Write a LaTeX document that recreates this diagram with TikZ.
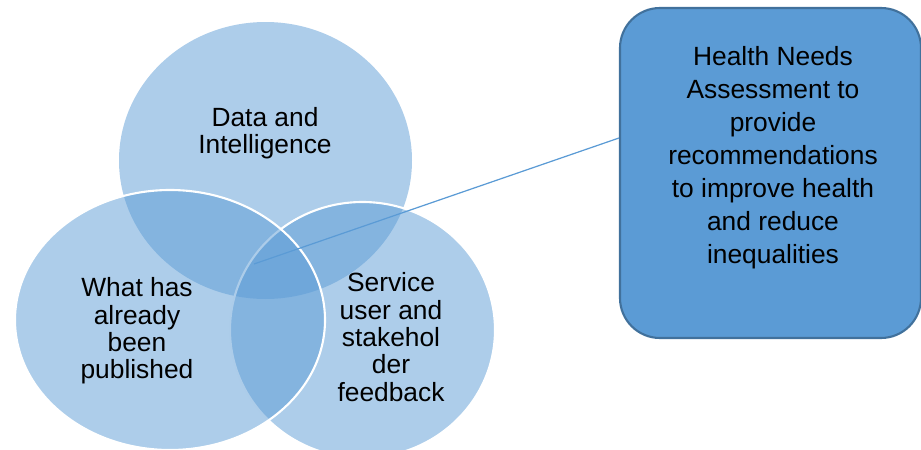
\documentclass[tikz,border=0pt]{standalone}
\usepackage{fontspec}
\setmainfont{Liberation Sans}
\usepackage{tikz}
\usetikzlibrary{shapes.geometric}
\definecolor{venn1}{RGB}{91,155,213}
\definecolor{boxline}{RGB}{65,113,156}

\begin{document}
\begin{tikzpicture}[x=0.02cm,y=-0.02cm,
  vennfill/.style={fill=venn1,fill opacity=0.5},
  vennline/.style={draw=white,line width=1.2pt},
  venntext/.style={align=center,font=\fontsize{15}{15.6}\selectfont},
  boxtext/.style={align=center,font=\fontsize{15}{18.8}\selectfont}]
\useasboundingbox (0,0) rectangle (921,450);
%
% the three sets
\fill[vennfill] (265.5,160.5) ellipse [x radius=146.5, y radius=138.5];
\draw[vennfill,vennline] (362.5,330) ellipse [x radius=132.5, y radius=128];
\draw[vennfill,vennline] (170,320) ellipse [x radius=155, y radius=130];
%
\node[venntext] (data) at (265,133) {Data and\\Intelligence};
\node[venntext] (published) at (137,331) {What has\\already\\been\\published};
\node[venntext] (feedback) at (391,337) {Service\\user and\\stakehol\\der\\feedback};
%
% the callout
\coordinate (venn) at (254,264);
\node[draw=boxline,fill=venn1,line width=1.2pt,rounded corners=0.8cm,
  minimum width=301*0.02cm,minimum height=330*0.02cm] (box) at (770.5,173) {};
\draw[venn1,line width=0.7pt] (venn) -- (box.167);
\node[boxtext] (hna) at (773,158) {Health Needs\\Assessment to\\provide\\recommendations\\to improve health\\and reduce\\inequalities};
\end{tikzpicture}
\end{document}
